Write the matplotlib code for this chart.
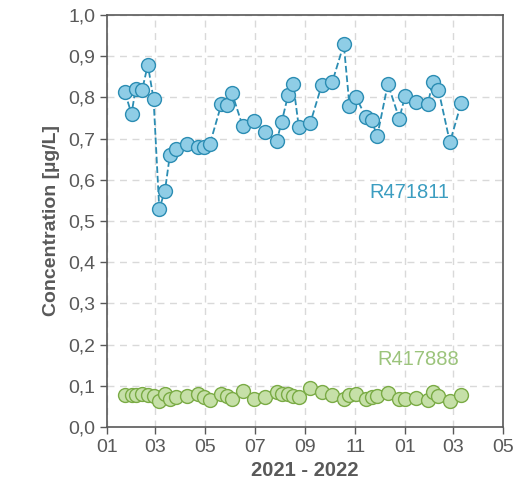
import matplotlib
matplotlib.use("Agg")
import matplotlib.pyplot as plt
import matplotlib.dates as mdates
import matplotlib.ticker as mticker
import pandas as pd

plt.rcParams["font.family"] = ["Liberation Sans", "DejaVu Sans"]

# sampling dates (both wells sampled on the same days)
dates = pd.to_datetime([
    "2021-01-23", "2021-01-31", "2021-02-05", "2021-02-13", "2021-02-20", "2021-02-27",
    "2021-03-06", "2021-03-13", "2021-03-19", "2021-03-27", "2021-04-09", "2021-04-22",
    "2021-04-30", "2021-05-07", "2021-05-21", "2021-05-28", "2021-06-03", "2021-06-16",
    "2021-06-30", "2021-07-14", "2021-07-28", "2021-08-03", "2021-08-11", "2021-08-17",
    "2021-08-24", "2021-09-07", "2021-09-21", "2021-10-04", "2021-10-18", "2021-10-25",
    "2021-11-02", "2021-11-14", "2021-11-21", "2021-11-28", "2021-12-11", "2021-12-25",
    "2022-01-01", "2022-01-14", "2022-01-29", "2022-02-04", "2022-02-11", "2022-02-25",
    "2022-03-11",
])

r471811 = [0.812, 0.760, 0.820, 0.818, 0.879, 0.796, 0.529, 0.574, 0.660, 0.675,
           0.687, 0.679, 0.680, 0.687, 0.783, 0.781, 0.811, 0.731, 0.742, 0.716,
           0.695, 0.741, 0.807, 0.833, 0.727, 0.738, 0.830, 0.838, 0.929, 0.779,
           0.801, 0.752, 0.744, 0.706, 0.833, 0.748, 0.803, 0.788, 0.785, 0.838,
           0.818, 0.691, 0.787]

r417888 = [0.078, 0.077, 0.077, 0.080, 0.077, 0.075, 0.063, 0.080, 0.069, 0.073,
           0.075, 0.079, 0.073, 0.065, 0.079, 0.074, 0.069, 0.088, 0.067, 0.072,
           0.086, 0.081, 0.080, 0.074, 0.073, 0.095, 0.084, 0.077, 0.069, 0.077,
           0.081, 0.068, 0.072, 0.075, 0.082, 0.069, 0.068, 0.071, 0.065, 0.084,
           0.075, 0.062, 0.077]

grey = "#595959"
blue_line = "#2b8db3"
blue_face = "#8fcde6"
green_line = "#7aab45"
green_face = "#c6e0a8"

fig = plt.figure(figsize=(5.18, 4.90), dpi=100)
ax = fig.add_axes([0.2066, 0.1286, 0.7644, 0.8408])

ax.plot(dates, r471811, linestyle="--", color=blue_line, linewidth=1.3,
        marker="o", markersize=10, markerfacecolor=blue_face,
        markeredgecolor=blue_line, markeredgewidth=1, zorder=3)
ax.plot(dates, r417888, linestyle="none", marker="o", markersize=10,
        markerfacecolor=green_face, markeredgecolor=green_line,
        markeredgewidth=1, zorder=3)

ax.text(pd.Timestamp("2022-01-06"), 0.57, "R471811", color="#3b9dc0",
        fontsize=14.5, ha="center", va="center")
ax.text(pd.Timestamp("2022-01-17"), 0.165, "R417888", color="#9cc47c",
        fontsize=14.5, ha="center", va="center")

ax.set_xlim(pd.Timestamp("2021-01-01"), pd.Timestamp("2022-05-01"))
ax.set_ylim(0, 1.0)
ax.xaxis.set_major_locator(mdates.MonthLocator(bymonth=[1, 3, 5, 7, 9, 11]))
ax.xaxis.set_major_formatter(mdates.DateFormatter("%m"))
ax.yaxis.set_major_locator(mticker.MultipleLocator(0.1))
ax.yaxis.set_major_formatter(mticker.FuncFormatter(lambda v, p: f"{v:.1f}".replace(".", ",")))

ax.grid(True, linestyle=(0, (5, 4)), color="#d9d9d9", linewidth=1)
ax.set_axisbelow(True)
for s in ax.spines.values():
    s.set_color(grey)
    s.set_linewidth(1.2)
ax.tick_params(colors=grey, labelsize=14, length=5, width=1, direction="out")

ax.set_ylabel("Concentration [µg/L]", fontsize=14, fontweight="bold", color=grey, labelpad=6)
ax.set_xlabel("2021 - 2022", fontsize=14.5, fontweight="bold", color=grey, labelpad=4)

fig.savefig("out.png", dpi=100)
